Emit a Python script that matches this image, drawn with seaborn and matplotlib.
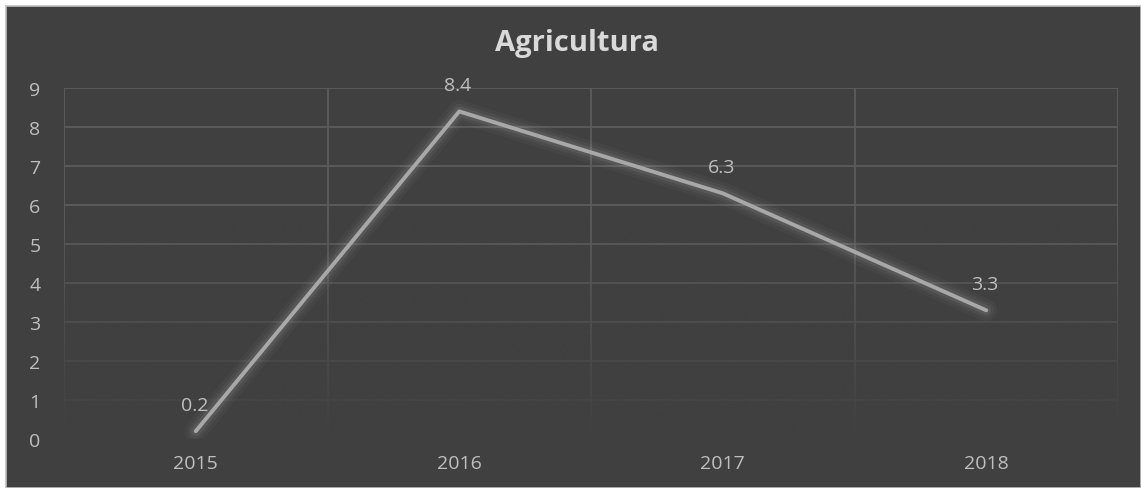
import numpy as np
import pandas as pd
import matplotlib
matplotlib.use("Agg")
import matplotlib.pyplot as plt
import seaborn as sns

years = ["2015", "2016", "2017", "2018"]
values = [0.2, 8.4, 6.3, 3.3]
title = "Agricultura"

sns.set_theme(style="dark")
plt.rcParams['font.family'] = ['Open Sans', 'DejaVu Sans']

BG = "#404040"
W, H = 1141, 489
fig = plt.figure(figsize=(W / 100, H / 100), dpi=100, facecolor="white")
# dark chart area
fig.patches.append(plt.Rectangle((6 / W, 0), 1 - 6 / W, 1 - 7 / H, transform=fig.transFigure,
                                 facecolor=BG, edgecolor="#bfbfbf", linewidth=1.2, zorder=-10))

ax = fig.add_axes([64 / W, 1 - 440 / H, (1118 - 64) / W, (440 - 89) / H])
ax.set_facecolor(BG)
ax.set_zorder(5)

df = pd.DataFrame({"year": years, "value": values})

# gridlines
grid_c = "#5c5c5c"
for y in range(1, 10):
    ax.axhline(y, color=grid_c, lw=1.3, zorder=1)
for x in [-0.5, 0.5, 1.5, 2.5, 3.5]:
    ax.axvline(x, color=grid_c, lw=1.3, zorder=1)
# fade gridlines towards the bottom
grad = np.zeros((256, 1, 4))
rgb = matplotlib.colors.to_rgb(BG)
grad[..., 0], grad[..., 1], grad[..., 2] = rgb
grad[:, 0, 3] = np.clip(np.linspace(1.0, -0.6, 256), 0, 1)
ax.imshow(grad, extent=(-0.5, 3.5, 0, 9), aspect="auto", origin="lower", zorder=2,
          interpolation="bilinear")

# glow
for lw, a in [(16, 0.04), (11, 0.06), (7, 0.09)]:
    sns.lineplot(data=df, x="year", y="value", ax=ax, color="#c8c8c8", lw=lw, alpha=a,
                 zorder=3, solid_capstyle="round", legend=False)
sns.lineplot(data=df, x="year", y="value", ax=ax, color="#a8a8a8", lw=2.8, zorder=4,
             solid_capstyle="round", legend=False)

for i, v in enumerate(values):
    ax.annotate(f"{v}", (i, v), xytext=(-1, 19), textcoords="offset points",
                ha="center", va="center", color="#bfbfbf", fontsize=14, zorder=5)

ax.set_xlim(-0.5, 3.5)
ax.set_ylim(0, 9)
ax.set_xlabel("")
ax.set_ylabel("")
ax.set_yticks(range(0, 10))
ax.tick_params(axis="both", colors="#bfbfbf", labelsize=14, length=0)
ax.tick_params(axis="y", pad=17)
ax.tick_params(axis="x", pad=11)
ax.grid(False)
for s in ax.spines.values():
    s.set_visible(False)

fig.text(577 / W, 1 - 44 / H, title, ha="center", va="center", fontsize=21,
         fontweight="bold", color="#d9d9d9")

fig.savefig("out.png", dpi=100, facecolor="white")
